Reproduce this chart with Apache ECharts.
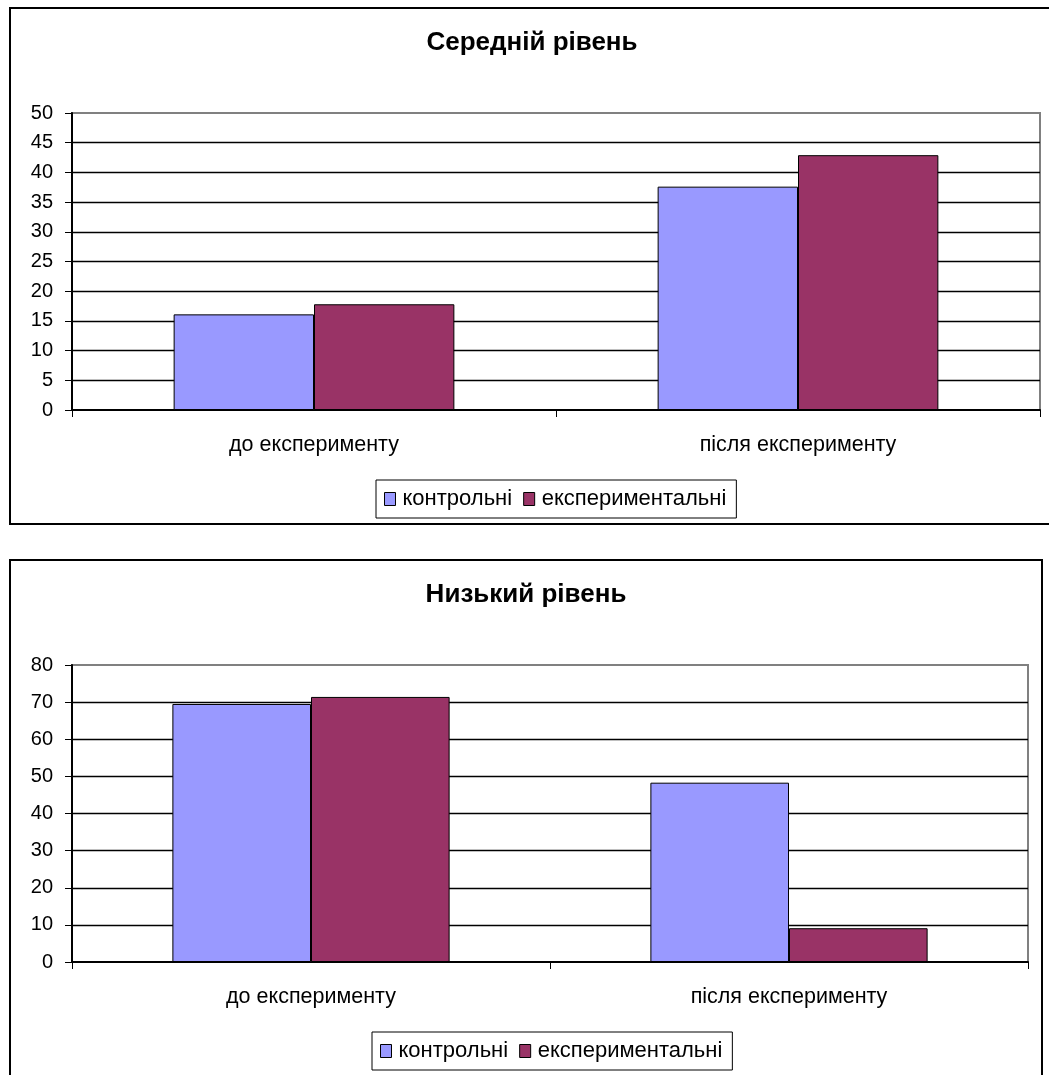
<!DOCTYPE html>
<html>
<head>
<meta charset="utf-8">
<script src="https://cdn.jsdelivr.net/npm/echarts@6/dist/echarts.min.js"></script>
<style>
  html, body { margin: 0; padding: 0; background: #fff; }
  body { width: 1049px; height: 1075px; position: relative; overflow: hidden; }
  .box { position: absolute; border: 2px solid #000; box-sizing: border-box; background: #fff; }
  #box1 { left: 9px; top: 7px; width: 1044px; height: 518px; }
  #box2 { left: 9px; top: 559px; width: 1034px; height: 520px; }
  .chart { width: 100%; height: 100%; }
</style>
</head>
<body>
<div class="box" id="box1"><div class="chart" id="c1"></div></div>
<div class="box" id="box2"><div class="chart" id="c2"></div></div>
<script>
const categories = ['до експерименту', 'після експерименту'];
const seriesNames = ['контрольні', 'експериментальні'];

const title1 = 'Середній рівень';
const control1 = [16.1, 37.6];
const experimental1 = [17.8, 42.9];

const title2 = 'Низький рівень';
const control2 = [69.5, 48.3];
const experimental2 = [71.4, 9.1];

const FONT = 'Arial, "Liberation Sans", sans-serif';
const colors = ['#9999FF', '#993366'];

function build(opts) {
  return {
    animation: false,
    backgroundColor: '#fff',
    title: {
      text: opts.title,
      left: opts.titleX,
      top: 21,
      textAlign: 'center',
      padding: 0,
      textStyle: { fontFamily: FONT, fontSize: 26, fontWeight: 'bold', color: '#000' }
    },
    legend: {
      data: seriesNames,
      left: opts.legendX,
      top: 471,
      orient: 'horizontal',
      borderColor: '#000',
      borderWidth: 1,
      padding: [8, 10, 8, 8],
      itemWidth: 11,
      itemHeight: 13,
      itemGap: 11,
      icon: 'rect',
      itemStyle: { borderColor: '#000', borderWidth: 1 },
      textStyle: { fontFamily: FONT, fontSize: 22, color: '#000', padding: [0, 0, 0, 2] }
    },
    grid: {
      left: 61, right: opts.gridRight, top: 104, bottom: opts.gridBottom,
      show: true, borderColor: '#808080', borderWidth: 2, backgroundColor: '#fff',
      containLabel: false
    },
    xAxis: {
      type: 'category',
      data: categories,
      axisLine: { show: true, lineStyle: { color: '#000', width: 2 } },
      axisTick: { show: true, alignWithLabel: false, length: 7, lineStyle: { color: '#000', width: 1 } },
      axisLabel: { color: '#000', fontFamily: FONT, fontSize: 21.5, margin: 24 },
      splitLine: { show: false }
    },
    yAxis: {
      type: 'value',
      min: 0,
      max: opts.max,
      interval: opts.interval,
      axisLine: { show: true, lineStyle: { color: '#000', width: 2 } },
      axisTick: { show: true, inside: false, length: 7, lineStyle: { color: '#000', width: 1 } },
      axisLabel: { color: '#000', fontFamily: FONT, fontSize: 20, margin: 19 },
      splitLine: { show: true, showMinLine: false, showMaxLine: false, lineStyle: { color: '#000', width: 1.3 } }
    },
    series: [
      {
        name: seriesNames[0], type: 'bar', data: opts.a,
        barGap: '0%', barCategoryGap: '42%',
        itemStyle: { color: colors[0], borderColor: '#000', borderWidth: 1 }
      },
      {
        name: seriesNames[1], type: 'bar', data: opts.b,
        barGap: '0%', barCategoryGap: '42%',
        itemStyle: { color: colors[1], borderColor: '#000', borderWidth: 1 }
      }
    ]
  };
}

const chart1 = echarts.init(document.getElementById('c1'), null, { renderer: 'canvas' });
chart1.setOption(build({
  title: title1, titleX: 521, legendX: 365, gridRight: 11, gridBottom: 113,
  max: 50, interval: 5, a: control1, b: experimental1
}));

const chart2 = echarts.init(document.getElementById('c2'), null, { renderer: 'canvas' });
chart2.setOption(build({
  title: title2, titleX: 515, legendX: 361, gridRight: 13, gridBottom: 115,
  max: 80, interval: 10, a: control2, b: experimental2
}));
</script>
</body>
</html>
